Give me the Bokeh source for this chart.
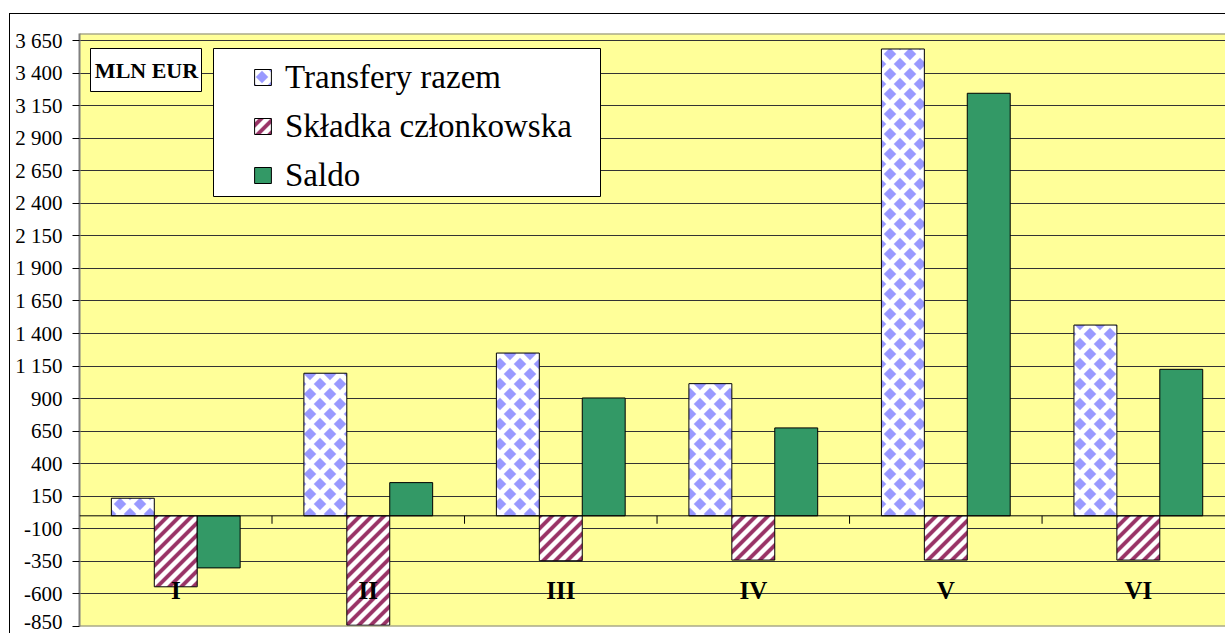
import base64, struct, zlib
import numpy as np
from bokeh.plotting import figure
from bokeh.models import (Range1d, FixedTicker, CustomJSTickFormatter, Span, BoxAnnotation,
                          Label, ImageURLTexture)
from bokeh.core.properties import value
from bokeh.embed import file_html
from bokeh.resources import INLINE

# ---- data ----
categories = ["I", "II", "III", "IV", "V", "VI"]
transfery = [135, 1095, 1250, 1015, 3585, 1465]
skladka = [-545, -840, -345, -340, -340, -340]
saldo = [-400, 255, 905, 675, 3245, 1125]
y_ticks = [-850, -600, -350, -100, 150, 400, 650, 900, 1150, 1400, 1650, 1900,
           2150, 2400, 2650, 2900, 3150, 3400, 3650]
series_names = ["Transfery razem", "Składka członkowska", "Saldo"]
unit_label = "MLN EUR"

SERIF = "Liberation Serif"
Y0, Y1 = -850, 3704


# ---- pattern tiles (texture images, baked as PNG data URLs) ----
def png_data_url(w, h, pix):
    raw = b"".join(b"\x00" + bytes(pix[y * w * 4:(y + 1) * w * 4]) for y in range(h))
    def chunk(t, d):
        c = struct.pack(">I", len(d)) + t + d
        return c + struct.pack(">I", zlib.crc32(t + d) & 0xffffffff)
    data = (b"\x89PNG\r\n\x1a\n" + chunk(b"IHDR", struct.pack(">IIBBBBB", w, h, 8, 6, 0, 0, 0))
            + chunk(b"IDAT", zlib.compress(raw)) + chunk(b"IEND", b""))
    return "data:image/png;base64," + base64.b64encode(data).decode()


def blend(c, t):
    return [int(round(255 + (ci - 255) * t)) for ci in c] + [255]


def diamond_tile(s, r, col):
    pix = []
    h = s / 2
    for y in range(s):
        for x in range(s):
            px, py = x + 0.5, y + 0.5
            d = min(abs(px - cx) + abs(py - cy)
                    for cx, cy in [(h, h), (0, 0), (s, 0), (0, s), (s, s)])
            t = min(1.0, max(0.0, (r - d) / 1.6 + 0.5))
            pix += blend(col, t)
    return png_data_url(s, s, pix)


def stripe_tile(s, hw, col):
    pix = []
    for y in range(s):
        for x in range(s):
            m = (x + 0.5 + y + 0.5) % s
            d = min(m, s - m) / 2 ** 0.5
            t = min(1.0, max(0.0, (hw - d) / 1.2 + 0.5))
            pix += blend(col, t)
    return png_data_url(s, s, pix)


diamond_tex = ImageURLTexture(url=diamond_tile(20, 6.3, (153, 153, 255)), repetition="repeat")
stripe_tex = ImageURLTexture(url=stripe_tile(12, 1.9, (153, 51, 102)), repetition="repeat")

p = figure(width=1216, height=620, output_backend="svg", toolbar_location=None,
           x_range=Range1d(0, 5.958), y_range=Range1d(Y0, Y1),
           min_border_left=69, min_border_top=19, min_border_bottom=8, min_border_right=0)
p.margin = (13, 0, 0, 9)
p.styles = {"border-left": "1px solid black", "border-top": "1px solid black"}
p.background_fill_color = "#FFFF99"
p.border_fill_color = "white"
p.outline_line_color = None

# axes
p.xaxis.visible = False
p.xgrid.visible = False
yt = FixedTicker(ticks=y_ticks, minor_ticks=[])
p.yaxis.ticker = yt
p.ygrid.ticker = yt
p.ygrid.grid_line_color = "#333333"
p.ygrid.grid_line_width = 1
p.yaxis.formatter = CustomJSTickFormatter(
    code="return tick.toString().replace(/\\B(?=(\\d{3})+(?!\\d))/g, ' ');")
p.yaxis.major_label_text_font = SERIF
p.yaxis.major_label_text_font_size = "21px"
p.yaxis.major_label_text_color = "black"
p.yaxis.major_tick_out = 7
p.yaxis.major_tick_in = 0
p.yaxis.major_tick_line_color = "black"
p.yaxis.minor_tick_line_color = None
p.yaxis.axis_line_color = "#808080"
p.yaxis.axis_line_width = 2
p.yaxis.major_label_standoff = 10

# plot-area top and bottom borders (no right border: the area runs off the right edge)
p.add_layout(Span(location=Y1, dimension="width", line_color="#808080", line_width=2))
p.add_layout(Span(location=Y0, dimension="width", line_color="#808080", line_width=2))

# legend box and unit box (added before legend so they render beneath it)
p.add_layout(BoxAnnotation(left=134, right=521, top=578, bottom=430,
                           left_units="screen", right_units="screen",
                           top_units="screen", bottom_units="screen",
                           fill_color="white", fill_alpha=1, line_color="black",
                           line_width=1, line_alpha=1))
p.add_layout(BoxAnnotation(left=11, right=122, top=578, bottom=535,
                           left_units="screen", right_units="screen",
                           top_units="screen", bottom_units="screen",
                           fill_color="white", fill_alpha=1, line_color="black",
                           line_width=1, line_alpha=1))
p.add_layout(Label(x=67, y=556, x_units="screen", y_units="screen", text=unit_label,
                   text_font=SERIF, text_font_style="bold", text_font_size="22px",
                   text_align="center", text_baseline="middle", text_color="black"))

xc = np.arange(len(categories)) + 0.5
bw = 0.223

p.vbar(x=xc - bw, top=transfery, bottom=0, width=bw, fill_color="white",
       hatch_pattern=value("diamonds"), hatch_extra={"diamonds": diamond_tex},
       hatch_color="#9999FF", hatch_scale=20, hatch_weight=1,
       line_color="black", line_width=1, legend_label=series_names[0])
p.vbar(x=xc, top=skladka, bottom=0, width=bw, fill_color="white",
       hatch_pattern=value("stripes"), hatch_extra={"stripes": stripe_tex},
       hatch_color="#993366", hatch_scale=12, hatch_weight=1,
       line_color="black", line_width=1, legend_label=series_names[1])
p.vbar(x=xc + bw, top=saldo, bottom=0, width=bw, fill_color="#339966",
       line_color="black", line_width=1, legend_label=series_names[2])

# zero axis line and category boundary ticks
p.add_layout(Span(location=0, dimension="width", line_color="black", line_width=1))
bounds = np.arange(1, len(categories))
p.segment(x0=bounds, y0=0, x1=bounds, y1=-61, line_color="black", line_width=1)

# category labels
p.text(x=xc, y=-570, text=categories, text_font=value(SERIF), text_font_style="bold",
       text_font_size="25px", text_align="center", text_baseline="alphabetic",
       text_color="black")

lg = p.legend[0]
lg.location = (173, 431)
lg.padding = 0
lg.margin = 0
lg.spacing = 9
lg.label_height = 40
lg.glyph_height = 20
lg.glyph_width = 21
lg.label_standoff = 12
lg.label_text_font = SERIF
lg.label_text_font_size = "33px"
lg.label_text_color = "black"
lg.background_fill_alpha = 0
lg.border_line_alpha = 0
lg.level = "overlay"

open("out.html", "w").write(file_html(p, INLINE))
